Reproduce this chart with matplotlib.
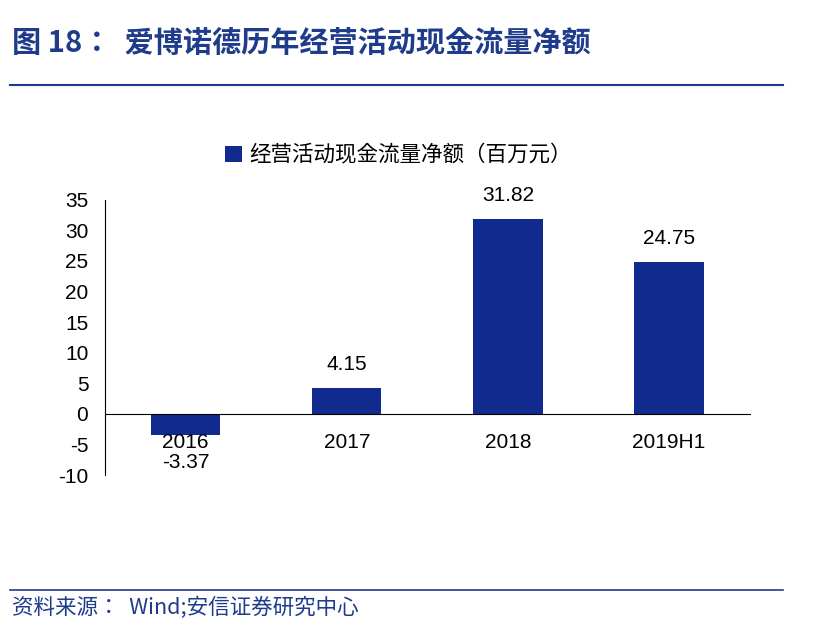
import matplotlib
matplotlib.use("Agg")
import matplotlib.pyplot as plt
from matplotlib.lines import Line2D

CJK = "Noto Sans CJK JP"
plt.rcParams['font.family'] = ['Liberation Sans', CJK]

categories = ["2016", "2017", "2018", "2019H1"]
values = [-3.37, 4.15, 31.82, 24.75]
yticks = [-10, -5, 0, 5, 10, 15, 20, 25, 30, 35]
bar_color = "#112A8E"
title_color = "#1F3C8C"

fig = plt.figure(figsize=(8.14, 6.36), dpi=100)
fig.text(0.015, 0.932, "图 18：  爱博诺德历年经营活动现金流量净额", fontsize=21, fontweight="bold",
         color=title_color, va="center", fontfamily=CJK)
fig.add_artist(Line2D([0.012, 0.962], [0.866, 0.866], color=title_color, lw=1.5))
fig.add_artist(Line2D([0.012, 0.962], [0.072, 0.072], color=title_color, lw=1.2))
fig.text(0.015, 0.045, "资料来源：  Wind;安信证券研究中心", fontsize=15.5,
         color=title_color, va="center", fontfamily=CJK)

ax = fig.add_axes([0.129, 0.253, 0.792, 0.433])
x = range(len(categories))
bars = ax.bar(x, values, width=0.43, color=bar_color, label="经营活动现金流量净额（百万元）")
ax.set_ylim(-10, 35)
ax.set_yticks(yticks)
ax.set_yticklabels([str(t) for t in yticks], fontsize=15, fontfamily="Liberation Sans")
ax.set_xlim(-0.5, 3.5)
ax.set_xticks(list(x))
ax.set_xticklabels([])
for xi, c, v in zip(x, categories, values):
    ax.text(xi, -4.7, c, ha="center", va="center", fontsize=15, fontfamily="Liberation Sans")
    if v >= 0:
        ax.text(xi, v + 2.3, f"{v:.2f}", ha="center", va="bottom", fontsize=15, fontfamily="Liberation Sans")
    else:
        ax.text(xi, -8.0, f"{v:.2f}", ha="center", va="center", fontsize=15, fontfamily="Liberation Sans")
for s in ["top", "right"]:
    ax.spines[s].set_visible(False)
ax.spines["bottom"].set_position(("data", 0))
ax.spines["bottom"].set_color("black")
ax.tick_params(axis="x", length=0)
ax.tick_params(axis="y", length=0, pad=12)
leg = ax.legend(loc="lower center", bbox_to_anchor=(0.455, 1.05), frameon=False,
                prop={"family": CJK, "size": 15.5},
                handlelength=0.8, handleheight=0.8, handletextpad=0.3)
fig.savefig("out.png", dpi=100)
